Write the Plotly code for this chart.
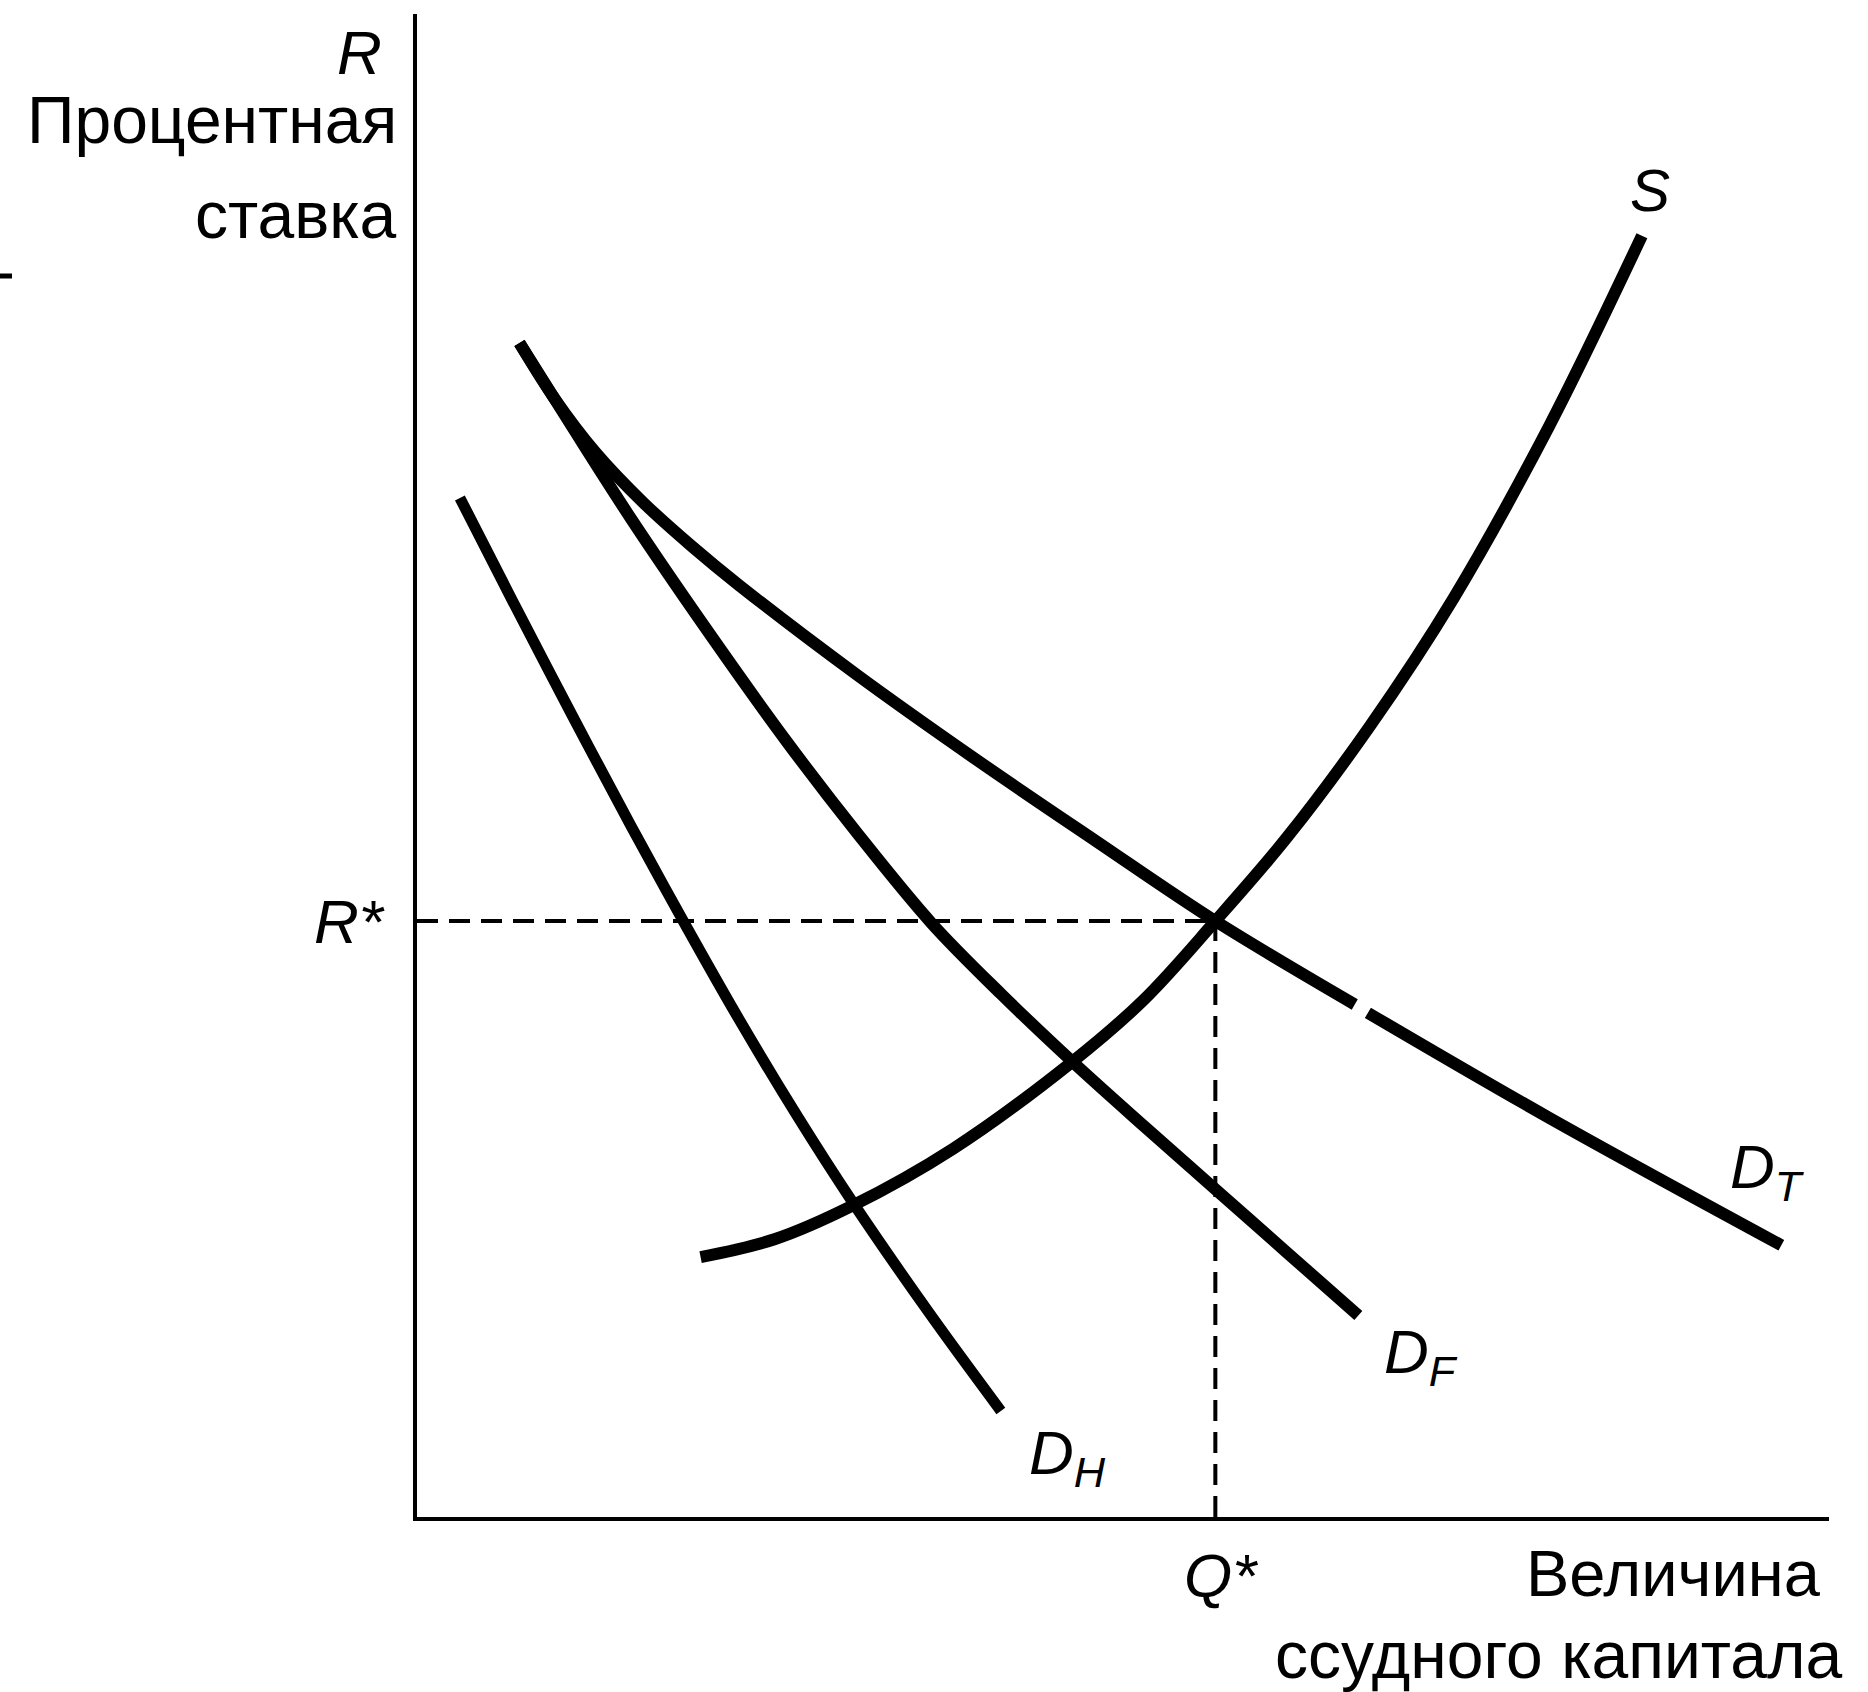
import plotly.graph_objects as go

# Loanable-funds market: supply S and demand curves D_H, D_F, D_T
# Quantity of loanable capital (x) and interest rate R (y), arbitrary units.
S_Q = [238, 300, 365, 450, 550, 610, 670, 730, 800, 870, 950, 1028]
S_R = [218, 233, 261, 309, 382, 434, 500, 570, 664, 771, 915, 1075]

DH_Q = [36, 80, 130, 180, 224, 270, 320, 365, 430, 490]
DH_R = [855, 769, 673, 579, 499, 418, 335, 265, 171, 89]

DF_Q = [86, 130, 180, 240, 310, 370, 432, 490, 550, 610, 670, 730, 790]
DF_R = [985, 915, 837, 749, 651, 573, 498, 439, 382, 328, 275, 222, 169]

# total demand; None marks the small break in the printed line
DT_Q = [86, 115, 150, 190, 230, 270, 370, 470, 570, 670, 787, None,
        798, 950, 1145]
DT_R = [985, 939, 893, 851, 815, 782, 706, 635, 567, 500, 430, None,
        423, 335, 228]

# equilibrium
Q_STAR = 670
R_STAR = 500

X_MAX = 1185
Y_MAX = 1261

FONT = "Liberation Sans, Arial, Helvetica, sans-serif"
INK = "black"

fig = go.Figure()

for q, r, w in [(S_Q, S_R, 12), (DH_Q, DH_R, 11), (DF_Q, DF_R, 12),
                (DT_Q, DT_R, 12)]:
    fig.add_trace(go.Scatter(
        x=q, y=r, mode="lines",
        line=dict(color=INK, width=w, shape="spline", smoothing=1.0),
        connectgaps=False, hoverinfo="skip"))

dash = dict(color=INK, width=4, dash="21px,11px")
fig.add_trace(go.Scatter(x=[0, Q_STAR], y=[R_STAR, R_STAR], mode="lines",
                         line=dash, hoverinfo="skip"))
fig.add_trace(go.Scatter(x=[Q_STAR, Q_STAR], y=[0, R_STAR], mode="lines",
                         line=dash, hoverinfo="skip"))


def label(text, x, y, xanchor="center", size=64):
    # positions given in axis units, placed in paper space so that
    # labels outside the axis ranges are still drawn
    fig.add_annotation(x=x / X_MAX, y=y / Y_MAX, xref="paper", yref="paper",
                       text=text, showarrow=False,
                       xanchor=xanchor, yanchor="middle",
                       font=dict(family=FONT, size=size, color=INK))


# axis titles
label("<i>R</i>", -28, 1229, "right", 62)
label("Процентная", -15, 1172, "right", 66)
label("ставка", -15, 1092, "right", 66)
label("Величина", 1180, -47, "right", 65)
label("ссудного капитала", 1198, -116, "right", 66)

# equilibrium markers
label("<i>R*</i>", -25, R_STAR, "right", 62)
label("<i>Q*</i>", Q_STAR + 5, -49, "center", 62)

# curve names
label("<i>S</i>", 1035, 1113, "center", 60)
label("<i>D<sub>T</sub></i>", 1100, 290, "left", 62)
label("<i>D<sub>F</sub></i>", 810, 135, "left", 62)
label("<i>D<sub>H</sub></i>", 512, 50, "left", 62)

# stray printing mark at the left edge
fig.add_shape(type="line", xref="paper", yref="paper",
              x0=-417 / 1412, x1=-405 / 1412,
              y0=(1517 - 276) / 1503, y1=(1517 - 276) / 1503,
              line=dict(color=INK, width=5))

axis = dict(showgrid=False, zeroline=False, showticklabels=False,
            ticks="", showline=True, linecolor=INK, linewidth=4,
            fixedrange=True)
fig.update_xaxes(range=[0, X_MAX], **axis)
fig.update_yaxes(range=[0, Y_MAX], **axis)

fig.update_layout(
    width=1868, height=1692,
    margin=dict(l=417, r=39, t=14, b=175, pad=0),
    plot_bgcolor="white", paper_bgcolor="white",
    showlegend=False,
)

fig.write_html("out.html")
